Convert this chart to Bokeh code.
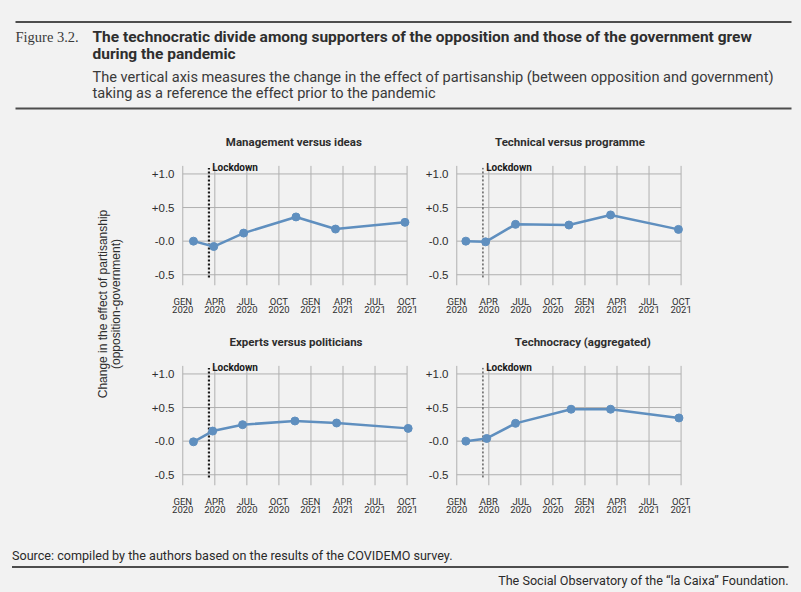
import math
from bokeh.plotting import figure
from bokeh.layouts import column, row
from bokeh.models import Range1d, FixedTicker, ColumnDataSource
from bokeh.core.properties import value
from bokeh.embed import file_html
from bokeh.resources import INLINE

# ---------------- data ----------------
panel_titles = ["Management versus ideas", "Technical versus programme",
                "Experts versus politicians", "Technocracy (aggregated)"]

# survey waves, months since January 2020
wave_months_mgmt = [1.0, 2.9, 5.7, 10.6, 14.3, 20.8]
effect_mgmt = [0.0, -0.08, 0.12, 0.36, 0.18, 0.28]

wave_months_tech = [0.85, 2.7, 5.5, 10.5, 14.4, 20.75]
effect_tech = [0.0, -0.01, 0.25, 0.24, 0.39, 0.175]

wave_months_expert = [1.0, 2.8, 5.6, 10.5, 14.4, 21.1]
effect_expert = [-0.01, 0.15, 0.245, 0.30, 0.27, 0.19]

wave_months_aggr = [0.85, 2.8, 5.5, 10.7, 14.4, 20.8]
effect_aggr = [0.0, 0.04, 0.265, 0.475, 0.475, 0.345]

lockdown_month = 2.45

tick_months = [0, 3, 6, 9, 12, 15, 18, 21]
tick_labels = ["GEN\n2020", "APR\n2020", "JUL\n2020", "OCT\n2020",
               "GEN\n2021", "APR\n2021", "JUL\n2021", "OCT\n2021"]
tick_labels_aggr = ["GEN\n2020", "ABR\n2020", "JUL\n2020", "OCT\n2020",
                    "GEN\n2021", "APR\n2021", "JUL\n2021", "OCT\n2021"]
y_ticks = [-0.5, 0.0, 0.5, 1.0]
y_tick_labels = ["-0.5", "-0.0", "+0.5", "+1.0"]

header_figure = "Figure 3.2."
header_title = ["The technocratic divide among supporters of the opposition and those of the government grew",
                "during the pandemic"]
header_sub = ["The vertical axis measures the change in the effect of partisanship (between opposition and government)",
              "taking as a reference the effect prior to the pandemic"]
y_label = ["Change in the effect of partisanship", "(opposition-government)"]
source_note = "Source: compiled by the authors based on the results of the COVIDEMO survey."
credit = "The Social Observatory of the \u201cla Caixa\u201d Foundation."

# ---------------- style ----------------
BG = "#f2f2f2"
LINE = "#5f8fbf"
GRID = "#b0b0b0"
TXT = "#2e2e2e"
SANS = value("Roboto")
ARIAL = value("Liberation Sans")

FRAME_W = 235
PANEL_H = 200
Y0, Y1 = -0.66, 1.825
GRID_TOP = 1.12


def blank(w, h, xr, yr):
    p = figure(width=w, height=h, x_range=Range1d(*xr), y_range=Range1d(*yr),
               output_backend="svg", toolbar_location=None,
               x_axis_type=None, y_axis_type=None,
               min_border=0, min_border_left=0, min_border_right=0,
               min_border_top=0, min_border_bottom=0)
    p.background_fill_color = BG
    p.border_fill_color = BG
    p.outline_line_color = None
    p.grid.visible = False
    return p


def panel(title, xs, ys, xlabels, left, right, thick, title_x):
    p = figure(width=left + FRAME_W + right, height=PANEL_H,
               x_range=Range1d(-0.4, 21.6), y_range=Range1d(Y0, Y1),
               output_backend="svg", toolbar_location=None,
               min_border_left=left, min_border_right=right,
               min_border_top=0, min_border_bottom=31)
    p.background_fill_color = BG
    p.border_fill_color = BG
    p.outline_line_color = None
    p.xgrid.visible = False
    p.ygrid.visible = False

    # grid lines drawn from the tick arrays
    n = len(tick_months)
    p.segment(x0=tick_months, x1=tick_months, y0=[Y0] * n, y1=[GRID_TOP] * n,
              line_color=GRID, line_width=1)
    m = len(y_ticks)
    p.segment(x0=[tick_months[0]] * m, x1=[tick_months[-1]] * m, y0=y_ticks, y1=y_ticks,
              line_color=GRID, line_width=1)

    # lockdown marker
    p.segment(x0=[lockdown_month], x1=[lockdown_month], y0=[-0.54], y1=[1.09],
              line_color="#1a1a1a", line_width=2.2 if thick else 1, line_dash="2 2")
    p.text(x=[lockdown_month + 0.3], y=[1.095], text=["Lockdown"],
           text_font=SANS, text_font_style="bold", text_font_size="10px",
           text_baseline="alphabetic", text_align="left", text_color="#1a1a1a")

    # panel title
    p.text(x=[title_x], y=[1.48], text=[title], text_font=SANS,
           text_font_style="bold", text_font_size="11.5px",
           text_align="center", text_baseline="middle", text_color=TXT)

    src = ColumnDataSource(dict(x=xs, y=ys))
    p.line("x", "y", source=src, line_color=LINE, line_width=2.5)
    p.scatter("x", "y", source=src, size=8, fill_color=LINE, line_color=LINE)

    p.xaxis.ticker = FixedTicker(ticks=tick_months)
    p.xaxis.major_label_overrides = {t: l for t, l in zip(tick_months, xlabels)}
    p.xaxis.axis_line_color = None
    p.xaxis.major_tick_line_color = None
    p.xaxis.minor_tick_line_color = None
    p.xaxis.major_tick_out = 0
    p.xaxis.major_tick_in = 0
    p.xaxis.minor_tick_out = 0
    p.xaxis.major_label_standoff = 10
    p.xaxis.major_label_text_font = "Roboto"
    p.xaxis.major_label_text_font_size = "9.5px"
    p.xaxis.major_label_text_line_height = 0.8
    p.xaxis.major_label_text_color = TXT

    p.yaxis.ticker = FixedTicker(ticks=y_ticks)
    p.yaxis.major_label_overrides = {t: l for t, l in zip(y_ticks, y_tick_labels)}
    p.yaxis.axis_line_color = None
    p.yaxis.major_tick_line_color = None
    p.yaxis.minor_tick_line_color = None
    p.yaxis.major_tick_out = 0
    p.yaxis.major_tick_in = 0
    p.yaxis.minor_tick_out = 0
    p.yaxis.major_label_standoff = 4
    p.yaxis.major_label_text_font = "Liberation Sans"
    p.yaxis.major_label_text_font_size = "11.5px"
    p.yaxis.major_label_text_color = TXT
    return p


# ---------------- header ----------------
W = 784
hdr = blank(W, 110, (8, 8 + W), (118, 8))
hdr.segment(x0=[15, 15], x1=[791, 791], y0=[21.5, 108], y1=[21.5, 108],
            line_color="#4d4d4d", line_width=2)
hdr.text(x=[15], y=[36], text=[header_figure], text_font=value("Liberation Serif"),
         text_font_size="14.5px", text_baseline="middle", text_color="#3a3a3a")
hdr.text(x=[92, 92], y=[36, 53.5], text=header_title, text_font=SANS,
         text_font_style="bold", text_font_size="15.5px", text_baseline="middle",
         text_color=TXT)
hdr.text(x=[92, 92], y=[76.5, 92.5], text=header_sub, text_font=SANS,
         text_font_size="14.6px", text_baseline="middle", text_color="#3a3a3a")

# ---------------- y label ----------------
ylab = blank(122, 2 * PANEL_H, (8, 130), (118 + 2 * PANEL_H, 118))
ylab.text(x=[102.5, 115.5], y=[303.5, 303.5], text=y_label, angle=math.pi / 2,
          text_font=ARIAL, text_font_size="12px", text_align="center",
          text_baseline="middle", text_color=TXT)

# ---------------- panels ----------------
RIGHT2 = W - 122 - 290 - 32 - FRAME_W
p1 = panel(panel_titles[0], wave_months_mgmt, effect_mgmt, tick_labels, 48, 7, True, 10.4)
p2 = panel(panel_titles[1], wave_months_tech, effect_tech, tick_labels, 32, RIGHT2, False, 10.6)
p3 = panel(panel_titles[2], wave_months_expert, effect_expert, tick_labels, 48, 7, True, 10.6)
p4 = panel(panel_titles[3], wave_months_aggr, effect_aggr, tick_labels_aggr, 32, RIGHT2, False, 11.8)

# ---------------- footer ----------------
ftr = blank(W, 74, (8, 8 + W), (592, 518))
ftr.text(x=[11.5], y=[555], text=[source_note], text_font=SANS, text_font_size="12.6px",
         text_baseline="middle", text_color="#2a2a2a")
ftr.segment(x0=[11.5], x1=[788], y0=[566.5], y1=[566.5], line_color="#4d4d4d", line_width=2)
ftr.text(x=[788], y=[579.5], text=[credit], text_font=SANS, text_font_size="12.6px",
         text_baseline="middle", text_align="right", text_color="#2a2a2a")

page = column(hdr, row(ylab, column(row(p1, p2), row(p3, p4))), ftr)

html = file_html(page, INLINE, title="Figure 3.2")
i = html.rfind("<body")
if i >= 0:
    html = (html[:i] + '<body style="background-color:#f2f2f2;padding:8px 8px 0 8px;"'
            + html[i + 5:])
open("out.html", "w").write(html)
